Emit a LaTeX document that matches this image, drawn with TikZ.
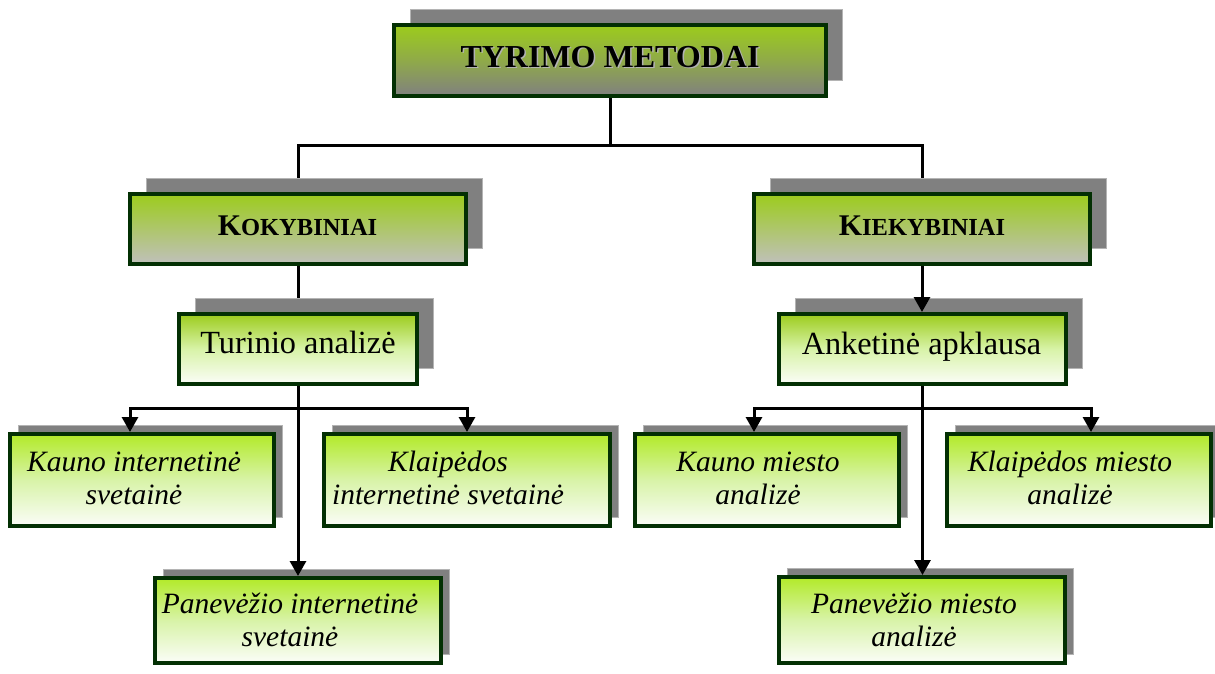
\documentclass[tikz,border=0pt]{standalone}
\usepackage{fontspec}
\setmainfont{Liberation Serif}
\usetikzlibrary{arrows.meta,shadows,calc}
\pgfdeclarelayer{background}
\pgfsetlayers{background,main}

\definecolor{framegreen}{HTML}{033003}
\definecolor{headgreen}{HTML}{9CCC1C}
\definecolor{leafgreen}{HTML}{B2EA28}
\definecolor{leafmid}{HTML}{D8F3A8}
\definecolor{leafwhite}{HTML}{FBFDF8}
\definecolor{darkgrey}{HTML}{808080}
\definecolor{lightgrey}{HTML}{C0C0BC}
\definecolor{shadowfill}{HTML}{808080}
\definecolor{shadowedge}{HTML}{B4B4B4}

% small capitals imitated with two sizes of bold capitals
\newcommand{\fakesc}[2]{{\fontsize{30}{34}\selectfont #1}{\fontsize{24.5}{28}\selectfont #2}}

\tikzset{
  boxbase/.style={draw=framegreen, line width=4pt, inner sep=0pt, shading angle=0},
  bigshade/.style={general shadow={fill=shadowfill, draw=shadowedge, line width=1pt,
      shadow xshift=16pt, shadow yshift=16pt}},
  smallshade/.style={general shadow={fill=shadowfill, draw=shadowedge, line width=1pt,
      shadow xshift=8pt, shadow yshift=8.5pt}},
  rootbox/.style={boxbase, bigshade, top color=headgreen, bottom color=darkgrey,
      middle color=headgreen!55!darkgrey},
  headbox/.style={boxbase, bigshade, top color=headgreen, bottom color=lightgrey,
      middle color=headgreen!50!lightgrey},
  methodbox/.style={boxbase, bigshade, top color=headgreen, bottom color=leafwhite,
      middle color=leafmid},
  leafbox/.style={boxbase, smallshade, top color=leafgreen, bottom color=leafwhite,
      middle color=leafmid},
  headtext/.style={anchor=base, inner sep=0pt, font=\bfseries},
  methodtext/.style={anchor=base, inner sep=0pt, font=\fontsize{32.3}{36}\selectfont},
  leaftext/.style={anchor=base, inner sep=0pt, font=\fontsize{29.5}{33}\selectfont\itshape},
  conn/.style={draw=black, line width=3pt},
  arr/.style={conn, -{Triangle[width=16pt,length=15pt]}},
}

\begin{document}
\begin{tikzpicture}[x=1pt, y=-1pt]
\useasboundingbox (0,0) rectangle (1215,673);

% boxes
\node[rootbox, minimum width=432pt, minimum height=71pt] (tm) at (610,60.5) {};
\node[headbox, minimum width=336pt, minimum height=70pt] (kok) at (298,229) {};
\node[headbox, minimum width=336pt, minimum height=70pt] (kie) at (922,229) {};
\node[methodbox, minimum width=238pt, minimum height=70pt] (tu) at (298,349) {};
\node[methodbox, minimum width=287pt, minimum height=70pt] (an) at (922.5,349) {};
\node[leafbox, minimum width=264pt, minimum height=92pt] (ki) at (142,480) {};
\node[leafbox, minimum width=286pt, minimum height=92pt] (kl) at (467,480) {};
\node[leafbox, minimum width=286pt, minimum height=85pt] (pi) at (298,620.5) {};
\node[leafbox, minimum width=264pt, minimum height=92pt] (kmi) at (767,480) {};
\node[leafbox, minimum width=264pt, minimum height=92pt] (kle) at (1079,480) {};
\node[leafbox, minimum width=286pt, minimum height=86pt] (pm) at (922,620) {};

% box texts
\node[headtext, font=\fontsize{32}{36}\bfseries, text=black!30] (tm-s) at (611.5,68.5) {TYRIMO METODAI};
\node[headtext, font=\fontsize{32}{36}\bfseries] (tm-t) at (610,67) {TYRIMO METODAI};
\node[headtext] (kok-t) at (297.5,235) {\fakesc{K}{OKYBINIAI}};
\node[headtext] (kie-t) at (922,235) {\fakesc{K}{IEKYBINIAI}};
\node[methodtext] (tu-t) at (298,353) {Turinio analizė};
\node[methodtext] (an-t) at (921.5,354) {Anketinė apklausa};
\node[leaftext] (ki-t) at (134,471) {\begin{tabular}[t]{@{}c@{}}Kauno internetinė\\svetainė\end{tabular}};
\node[leaftext] (kl-t) at (448,471) {\begin{tabular}[t]{@{}c@{}}Klaipėdos\\internetinė svetainė\end{tabular}};
\node[leaftext] (pi-t) at (290,613) {\begin{tabular}[t]{@{}c@{}}Panevėžio internetinė\\svetainė\end{tabular}};
\node[leaftext] (kmi-t) at (758,471) {\begin{tabular}[t]{@{}c@{}}Kauno miesto\\analizė\end{tabular}};
\node[leaftext] (kle-t) at (1070,471) {\begin{tabular}[t]{@{}c@{}}Klaipėdos miesto\\analizė\end{tabular}};
\node[leaftext] (pm-t) at (914,613) {\begin{tabular}[t]{@{}c@{}}Panevėžio miesto\\analizė\end{tabular}};

% junction points
\coordinate (tmj) at ($(tm.south)+(0,47)$);
\coordinate (tuj) at ($(tu.south)+(0,22)$);
\coordinate (anj) at ($(an.south)+(0,22)$);

% plain connectors run behind the shadows
\begin{pgfonlayer}{background}
  \draw[conn] (tm.south) -- (tmj);
  \draw[conn] (kok.north) |- (tmj) -| (kie.north);
  \draw[conn] (kok.south) -- (tu.north);
\end{pgfonlayer}

% arrows
\draw[arr] (kie.south) -- (kie.south |- an.north);
\draw[arr] (tu.south) -- (pi.north);
\draw[arr] (tuj) -| ([xshift=-12pt]ki.north);
\draw[arr] (tuj) -| (kl.north);
\draw[arr] (an.south) -- (an.south |- pm.north);
\draw[arr] (anj) -| ([xshift=-13pt]kmi.north);
\draw[arr] (anj) -| ([xshift=12pt]kle.north);
\end{tikzpicture}
\end{document}
